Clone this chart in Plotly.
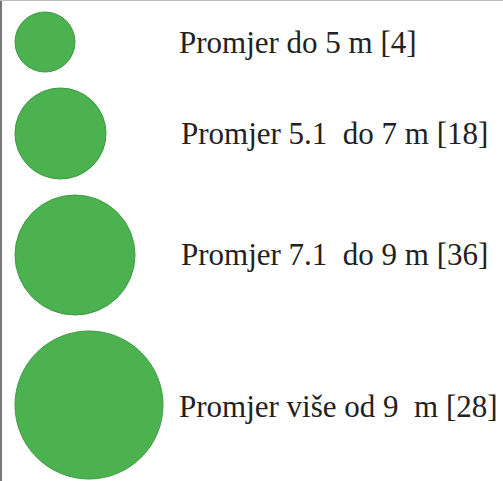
import plotly.graph_objects as go

# legend classes: tree crown diameter and number of trees
labels = ["Promjer do 5 m", "Promjer 5.1\u00a0\u00a0do 7 m",
          "Promjer 7.1\u00a0\u00a0do 9 m", "Promjer više od 9\u00a0\u00a0m"]
counts = [4, 18, 36, 28]

# circle diameters in px (legend symbol size per class)
sizes = [60, 91, 120, 148]
green = "#4cb24f"

W, H = 503, 481
left, top, gap = 15, 12, 16

xs, ys = [], []
y = top
for s in sizes:
    xs.append(left + s / 2)
    ys.append(y + s / 2)
    y += s + gap

texts = [f"{l} [{c}]" for l, c in zip(labels, counts)]
text_x = [179, 181, 181, 179]
text_dy = [3, 3, 2, 4]

fig = go.Figure()
fig.add_trace(go.Scatter(
    x=xs, y=ys, mode="markers",
    marker=dict(size=sizes, color=green, opacity=1,
                line=dict(color="#3e9a43", width=1)),
    hoverinfo="skip",
))
fig.add_trace(go.Scatter(
    x=text_x, y=[yy + d for yy, d in zip(ys, text_dy)], mode="text",
    text=texts, textposition="middle right",
    textfont=dict(family="Liberation Serif", size=31, color="#222222"),
    hoverinfo="skip",
))

# frame lines on the left and top
fig.add_shape(type="line", x0=1, x1=1, y0=0, y1=H, line=dict(color="#777777", width=2))
fig.add_shape(type="line", x0=0, x1=W, y0=0.5, y1=0.5, line=dict(color="#bbbbbb", width=1))

fig.update_layout(
    width=W, height=H,
    margin=dict(l=0, r=0, t=0, b=0),
    paper_bgcolor="white", plot_bgcolor="white",
    showlegend=False,
    xaxis=dict(range=[0, W], visible=False, fixedrange=True),
    yaxis=dict(range=[H, 0], visible=False, fixedrange=True),
)
fig.write_html("out.html", config={"displayModeBar": False},
               post_script="document.body.style.margin='0';document.body.style.overflow='hidden';")
